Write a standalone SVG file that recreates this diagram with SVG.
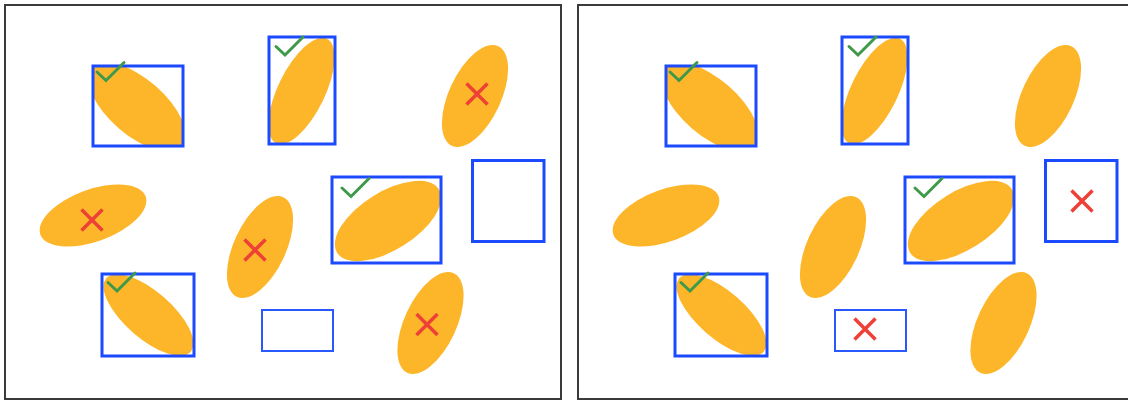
<svg xmlns="http://www.w3.org/2000/svg" width="1128" height="401" viewBox="0 0 1128 401">
<style>
.panel{fill:#fff;stroke:#3a3a3a;stroke-width:2}
.obj{fill:#fdb62a}
.box{fill:none;stroke:#1c4bff;stroke-width:3}
.thin{fill:none;stroke:#2a58ff;stroke-width:2}
.ok{fill:none;stroke:#3e9a4a;stroke-width:3;stroke-linecap:round;stroke-linejoin:miter}
.no{fill:none;stroke:#ee4036;stroke-width:3.5}
</style>
<defs>
<path id="x" d="M-10.5,-10.5L10.5,10.5M10.5,-10.5L-10.5,10.5"/>
<polyline id="ck" points="0,0 9,8.5 27,-9.5"/>
<clipPath id="c1"><rect x="93" y="66" width="90" height="80"/></clipPath>
<clipPath id="c2"><rect x="269" y="37" width="66" height="107"/></clipPath>
<clipPath id="c6"><rect x="102" y="274" width="92" height="82"/></clipPath>
</defs>
<rect fill="#fff" width="1128" height="401"/>

<g id="panel-left">
<rect class="panel" x="5" y="5" width="556" height="394"/>
<g id="L-obj1"><g clip-path="url(#c1)"><ellipse class="obj" cx="137" cy="107" rx="60" ry="28" transform="rotate(41 137 107)"/></g><rect class="box" x="93" y="66" width="90" height="80"/><use href="#ck" class="ok" x="97" y="72"/></g>
<g id="L-obj2"><g clip-path="url(#c2)"><ellipse class="obj" cx="301.5" cy="91" rx="23.5" ry="58" transform="rotate(26 301.5 91)"/></g><rect class="box" x="269" y="37" width="66" height="107"/><use href="#ck" class="ok" x="276" y="46.5"/></g>
<g id="L-obj3"><ellipse class="obj" cx="475" cy="96" rx="26" ry="55" transform="rotate(25 475 96)"/><use href="#x" class="no" x="477" y="94"/></g>
<g id="L-obj4"><ellipse class="obj" cx="93" cy="215.5" rx="56" ry="26" transform="rotate(-20 93 215.5)"/><use href="#x" class="no" x="92" y="220"/></g>
<g id="L-obj5"><ellipse class="obj" cx="260" cy="247" rx="26" ry="55" transform="rotate(25 260 247)"/><use href="#x" class="no" x="255" y="250"/></g>
<g id="L-obj6"><g clip-path="url(#c6)"><ellipse class="obj" cx="148.5" cy="315" rx="56" ry="23.5" transform="rotate(41 148.5 315)"/></g><rect class="box" x="102" y="274" width="92" height="82"/><use href="#ck" class="ok" x="108" y="282.5"/></g>
<g id="L-obj7"><ellipse class="obj" cx="388" cy="221" rx="60" ry="29" transform="rotate(-32 388 221)"/><rect class="box" x="332" y="177" width="109" height="86"/><use href="#ck" class="ok" x="342" y="188"/></g>
<g id="L-obj8"><ellipse class="obj" cx="430.5" cy="323" rx="26" ry="55" transform="rotate(25 430.5 323)"/><use href="#x" class="no" x="427" y="324.5"/></g>
<g id="L-box9"><rect class="box" x="472.5" y="160.5" width="71.5" height="81"/></g>
<g id="L-box10"><rect class="thin" x="262" y="310" width="71" height="41"/></g>
</g>

<g id="panel-right" transform="translate(573 0)">
<rect class="panel" x="5" y="5" width="556" height="394"/>
<g id="R-obj1"><g clip-path="url(#c1)"><ellipse class="obj" cx="137" cy="107" rx="60" ry="28" transform="rotate(41 137 107)"/></g><rect class="box" x="93" y="66" width="90" height="80"/><use href="#ck" class="ok" x="97" y="72"/></g>
<g id="R-obj2"><g clip-path="url(#c2)"><ellipse class="obj" cx="301.5" cy="91" rx="23.5" ry="58" transform="rotate(26 301.5 91)"/></g><rect class="box" x="269" y="37" width="66" height="107"/><use href="#ck" class="ok" x="276" y="46.5"/></g>
<g id="R-obj3"><ellipse class="obj" cx="475" cy="96" rx="26" ry="55" transform="rotate(25 475 96)"/></g>
<g id="R-obj4"><ellipse class="obj" cx="93" cy="215.5" rx="56" ry="26" transform="rotate(-20 93 215.5)"/></g>
<g id="R-obj5"><ellipse class="obj" cx="260" cy="247" rx="26" ry="55" transform="rotate(25 260 247)"/></g>
<g id="R-obj6"><g clip-path="url(#c6)"><ellipse class="obj" cx="148.5" cy="315" rx="56" ry="23.5" transform="rotate(41 148.5 315)"/></g><rect class="box" x="102" y="274" width="92" height="82"/><use href="#ck" class="ok" x="108" y="282.5"/></g>
<g id="R-obj7"><ellipse class="obj" cx="388" cy="221" rx="60" ry="29" transform="rotate(-32 388 221)"/><rect class="box" x="332" y="177" width="109" height="86"/><use href="#ck" class="ok" x="342" y="188"/></g>
<g id="R-obj8"><ellipse class="obj" cx="430.5" cy="323" rx="26" ry="55" transform="rotate(25 430.5 323)"/></g>
<g id="R-box9"><rect class="box" x="472.5" y="160.5" width="71.5" height="81"/><use href="#x" class="no" x="509" y="201"/></g>
<g id="R-box10"><rect class="thin" x="262" y="310" width="71" height="41"/><use href="#x" class="no" x="292" y="329"/></g>
</g>
<g id="connectors"/>
</svg>
